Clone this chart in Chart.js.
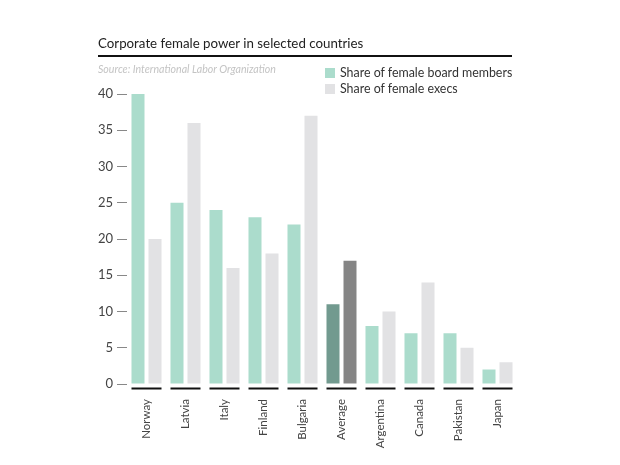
<!DOCTYPE html>
<html>
<head>
<meta charset="utf-8">
<script src="https://cdn.jsdelivr.net/npm/chart.js@4.4.1/dist/chart.umd.min.js"></script>
<style>
  html, body { margin: 0; padding: 0; background: #fff; }
  #wrap { position: relative; width: 620px; height: 465px; font-family: Lato, "Open Sans", sans-serif; }
  canvas { position: absolute; left: 0; top: 0; }
  #title { position: absolute; left: 98px; top: 35px; font-size: 13.3px; color: #222; white-space: nowrap; }
  #rule { position: absolute; left: 98px; top: 55px; width: 414px; height: 2px; background: #111; }
  #source { position: absolute; left: 98px; top: 63px; font-size: 10.6px; font-style: italic; color: #c4c4c4; white-space: nowrap; }
  .leg { position: absolute; left: 325px; font-size: 12.4px; color: #333; white-space: nowrap; }
  .leg span { display: inline-block; width: 10px; height: 10px; margin-right: 5px; vertical-align: -1px; }
</style>
</head>
<body>
<div id="wrap">
  <canvas id="c" width="620" height="465"></canvas>
  <div id="title">Corporate female power in selected countries</div>
  <div id="rule"></div>
  <div id="source">Source: International Labor Organization</div>
  <div class="leg" style="top:65px"><span style="background:#abdccc"></span>Share of female board members</div>
  <div class="leg" style="top:81px"><span style="background:#e2e2e4"></span>Share of female execs</div>
</div>
<script>
const categories = ['Norway','Latvia','Italy','Finland','Bulgaria','Average','Argentina','Canada','Pakistan','Japan'];
const boardShare = [40, 25, 24, 23, 22, 11, 8, 7, 7, 2];
const execShare  = [20, 36, 16, 18, 37, 17, 10, 14, 5, 3];
const yTicks = [0, 5, 10, 15, 20, 25, 30, 35, 40];

const boardColors = categories.map(c => c === 'Average' ? '#729a8f' : '#abdccc');
const execColors  = categories.map(c => c === 'Average' ? '#858585' : '#e2e2e4');

const underlinePlugin = {
  id: 'underline',
  afterDatasetsDraw(chart) {
    const ctx = chart.ctx;
    const y0 = chart.chartArea.bottom + 4.5;
    const m0 = chart.getDatasetMeta(0), m1 = chart.getDatasetMeta(1);
    ctx.save();
    ctx.strokeStyle = '#111';
    ctx.lineWidth = 2;
    categories.forEach((c, i) => {
      const b0 = m0.data[i], b1 = m1.data[i];
      const l = b0.x - b0.width / 2, r = b1.x + b1.width / 2;
      ctx.beginPath();
      ctx.moveTo(l, y0);
      ctx.lineTo(r, y0);
      ctx.stroke();
    });
    ctx.restore();
  }
};

new Chart(document.getElementById('c'), {
  type: 'bar',
  data: {
    labels: categories,
    datasets: [
      { label: 'Share of female board members', data: boardShare, backgroundColor: boardColors,
        categoryPercentage: 0.872, barPercentage: 0.765 },
      { label: 'Share of female execs', data: execShare, backgroundColor: execColors,
        categoryPercentage: 0.872, barPercentage: 0.765 }
    ]
  },
  options: {
    responsive: false,
    animation: false,
    devicePixelRatio: 1,
    layout: { padding: { left: 0, right: 103, top: 94, bottom: 0 } },
    plugins: { legend: { display: false }, title: { display: false }, tooltip: { enabled: false } },
    scales: {
      x: {
        grid: { display: false },
        border: { display: false },
        ticks: { minRotation: 90, maxRotation: 90, padding: 7, color: '#444', font: { family: 'Lato', size: 11.5 } },
        afterFit(s) { s.height = 81; }
      },
      y: {
        min: 0, max: 40,
        afterBuildTicks(s) { s.ticks = yTicks.map(v => ({ value: v })); },
        grid: { drawOnChartArea: false, drawTicks: true, tickLength: 10, color: '#888', lineWidth: 1 },
        border: { display: false },
        ticks: { padding: 4, color: '#444', font: { family: 'Lato', size: 13 } },
        afterFit(s) { s.width = 127; }
      }
    }
  },
  plugins: [underlinePlugin]
});
</script>
</body>
</html>
